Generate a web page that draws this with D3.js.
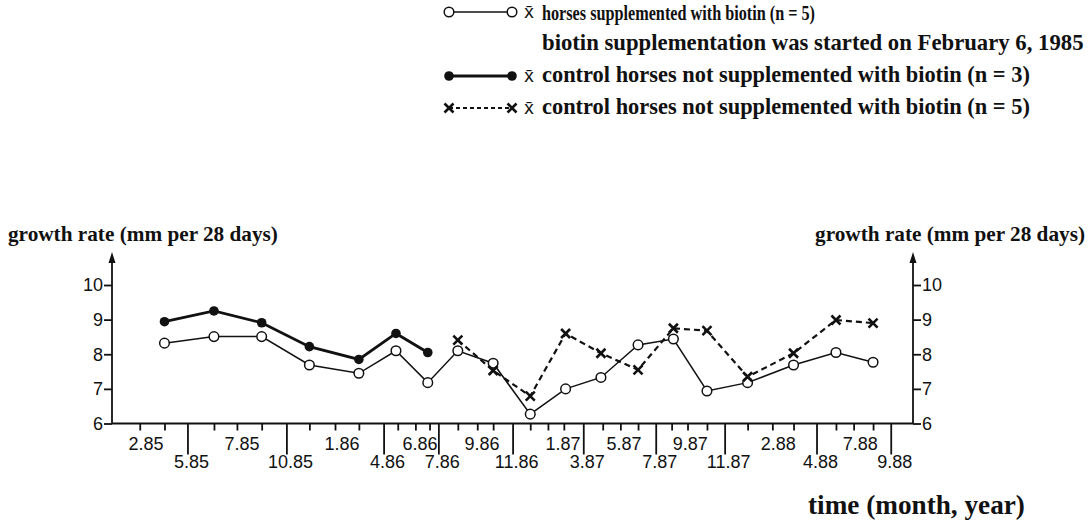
<!DOCTYPE html>
<html>
<head>
<meta charset="utf-8">
<script src="https://cdn.jsdelivr.net/npm/d3@7"></script>
<style>
  body { margin: 0; background: #fff; }
  .serif { font-family: "Liberation Serif", "Times New Roman", serif; font-weight: bold; fill: #111; }
  .num { font-family: "Liberation Sans", Arial, sans-serif; font-size: 18px; fill: #111; }
  .tick text { font-family: "Liberation Sans", Arial, sans-serif; font-size: 18px; fill: #111; }
  .tick line, .axisLine { stroke: #111; stroke-width: 1.8; }
</style>
</head>
<body>
<div class="chart"></div>
<script>
// measurement times (months since January 1985)
var sampleMonths = [2.4, 5.2, 7.9, 10.6, 13.4, 15.5, 17.3, 19.0, 21.0, 23.1, 25.1, 27.1, 29.2, 31.2, 33.1, 35.4, 38.0, 40.4, 42.5];

// mean growth rate, mm per 28 days
var biotinHorses = [8.32, 8.51, 8.51, 7.69, 7.45, 8.1, 7.18, 8.1, 7.74, 6.27, 7.0, 7.33, 8.27, 8.44, 6.94, 7.18, 7.69, 8.05, 7.77];
var control3 = [8.94, 9.25, 8.91, 8.22, 7.85, 8.6, 8.05];
var control5 = [8.41, 7.53, 6.79, 8.6, 8.03, 7.55, 8.75, 8.68, 7.35, 8.03, 8.99, 8.9];
var control5Months = sampleMonths.slice(7);

// axis ticks
var yTicks = [6, 7, 8, 9, 10];
var minorTickMonths = [1.0, 2.4, 5.2, 6.5, 7.9, 10.6, 12.05, 13.4, 15.6, 16.6, 17.4, 19.0, 20.1, 21.0, 23.1, 24.1, 25.0, 27.2, 28.2, 29.2, 31.1, 32.0, 33.1, 35.4, 36.8, 38.0, 40.4, 41.4, 42.5];
var longTickMonths = [3.7, 9.3, 14.8, 17.9, 22.1, 26.1, 30.2, 34.1, 39.3, 43.5];
var lowerLabels = ["5.85", "10.85", "4.86", "7.86", "11.86", "3.87", "7.87", "11.87", "4.88", "9.88"];
var upperLabelMonths = [1.36, 6.79, 12.45, 16.86, 20.37, 24.96, 28.41, 32.15, 37.13, 41.77];
var upperLabels = ["2.85", "7.85", "1.86", "6.86", "9.86", "1.87", "5.87", "9.87", "2.88", "7.88"];

var legendLabels = [
  "horses supplemented with biotin (n = 5)",
  "biotin supplementation was started on February 6, 1985",
  "control horses not supplemented with biotin (n = 3)",
  "control horses not supplemented with biotin (n = 5)"
];
var legendKinds = ["open", "none", "filled", "cross"];

var svgWidth = 1089;
var svgHeight = 524;
var margin = { top: 285, right: 176, bottom: 100.5, left: 112 };
var width = svgWidth - margin.left - margin.right;
var height = svgHeight - margin.top - margin.bottom;

var svg = d3.select(".chart")
  .append("svg")
  .attr("width", svgWidth)
  .attr("height", svgHeight);

// scale bold serif text to the width it has in the figure
function fitText(sel, w) {
  sel.style("font-size", "20px");
  var len = sel.node().getComputedTextLength();
  sel.style("font-size", (20 * w / len) + "px");
}

var chartGroup = svg.append("g")
  .attr("transform", `translate(${margin.left}, ${margin.top})`);

var x = d3.scaleLinear().domain([-0.57, 44.76]).range([0, width]);
var y = d3.scaleLinear().domain([6, 10]).range([height, 0]);
var yTop = y(10.95);

// y axes
var leftAxis = d3.axisLeft(y).tickValues(yTicks).tickSize(8).tickPadding(1).tickFormat(d3.format("d"));
var rightAxis = d3.axisRight(y).tickValues(yTicks).tickSize(8).tickPadding(1).tickFormat(d3.format("d"));

chartGroup.append("g").call(leftAxis).call(g => g.select(".domain").remove());
chartGroup.append("g").attr("transform", `translate(${width}, 0)`)
  .call(rightAxis).call(g => g.select(".domain").remove());

[0, width].forEach(function (px) {
  chartGroup.append("line").attr("class", "axisLine")
    .attr("x1", px).attr("x2", px).attr("y1", height).attr("y2", yTop + 8);
  chartGroup.append("path")
    .attr("d", `M${px},${yTop}L${px - 3.5},${yTop + 11}L${px + 3.5},${yTop + 11}Z`)
    .attr("fill", "#111");
});

// x axis
chartGroup.append("line").attr("class", "axisLine")
  .attr("x1", 0).attr("x2", width).attr("y1", height).attr("y2", height);

var minorAxis = d3.axisBottom(x).tickValues(minorTickMonths).tickSize(7).tickFormat("");
var longAxis = d3.axisBottom(x).tickValues(longTickMonths).tickSize(31).tickFormat("");
chartGroup.append("g").attr("transform", `translate(0, ${height})`)
  .call(minorAxis).call(g => g.select(".domain").remove());
chartGroup.append("g").attr("transform", `translate(0, ${height})`)
  .call(longAxis).call(g => g.select(".domain").remove());

chartGroup.selectAll(".upperLabel").data(upperLabels).enter()
  .append("text").attr("class", "num upperLabel")
  .attr("x", (d, i) => x(upperLabelMonths[i]))
  .attr("y", height + 26)
  .attr("text-anchor", "middle")
  .text(d => d);

chartGroup.selectAll(".lowerLabel").data(lowerLabels).enter()
  .append("text").attr("class", "num lowerLabel")
  .attr("x", (d, i) => x(longTickMonths[i]) + 4)
  .attr("y", height + 44)
  .attr("text-anchor", "middle")
  .text(d => d);

// lines
var line = d3.line().x(d => x(d[0])).y(d => y(d[1]));
var openData = d3.zip(sampleMonths, biotinHorses);
var filledData = d3.zip(sampleMonths.slice(0, control3.length), control3);
var crossData = d3.zip(control5Months, control5);

chartGroup.append("path").datum(filledData).attr("d", line)
  .attr("fill", "none").attr("stroke", "#111").attr("stroke-width", 2.8);
chartGroup.append("path").datum(openData).attr("d", line)
  .attr("fill", "none").attr("stroke", "#111").attr("stroke-width", 1.5);
chartGroup.append("path").datum(crossData).attr("d", line)
  .attr("fill", "none").attr("stroke", "#111").attr("stroke-width", 2.2)
  .attr("stroke-dasharray", "6,4");

var crossPath = "M-4.5,-4.5L4.5,4.5M-4.5,4.5L4.5,-4.5";

function drawMarker(g, kind) {
  if (kind === "open") {
    g.append("circle").attr("r", 4.8).attr("fill", "#fff").attr("stroke", "#111").attr("stroke-width", 1.5);
  } else if (kind === "filled") {
    g.append("circle").attr("r", 4.8).attr("fill", "#111");
  } else if (kind === "cross") {
    g.append("path").attr("d", crossPath).attr("stroke", "#111").attr("stroke-width", 2.6).attr("fill", "none");
  }
}

chartGroup.selectAll(".filledPt").data(filledData).enter()
  .append("g").attr("class", "filledPt")
  .attr("transform", d => `translate(${x(d[0])}, ${y(d[1])})`)
  .each(function () { drawMarker(d3.select(this), "filled"); });

chartGroup.selectAll(".openPt").data(openData).enter()
  .append("g").attr("class", "openPt")
  .attr("transform", d => `translate(${x(d[0])}, ${y(d[1])})`)
  .each(function () { drawMarker(d3.select(this), "open"); });

chartGroup.selectAll(".crossPt").data(crossData).enter()
  .append("g").attr("class", "crossPt")
  .attr("transform", d => `translate(${x(d[0])}, ${y(d[1])})`)
  .each(function () { drawMarker(d3.select(this), "cross"); });

// axis titles
svg.append("text").attr("class", "serif")
  .attr("x", 8).attr("y", 241)
  .text("growth rate (mm per 28 days)")
  .call(fitText, 270);

svg.append("text").attr("class", "serif")
  .attr("x", 1085).attr("y", 241).attr("text-anchor", "end")
  .text("growth rate (mm per 28 days)")
  .call(fitText, 270);

svg.append("text").attr("class", "serif")
  .attr("x", 808).attr("y", 514)
  .text("time (month, year)")
  .call(fitText, 217);

// legend
var legend = svg.selectAll(".legendRow").data(legendLabels).enter()
  .append("g").attr("class", "legendRow")
  .attr("transform", (d, i) => `translate(0, ${12 + i * 32})`);

legend.each(function (d, i) {
  var row = d3.select(this);
  var kind = legendKinds[i];
  if (kind !== "none") {
    row.append("line")
      .attr("x1", 449).attr("x2", 512).attr("y1", 0).attr("y2", 0)
      .attr("stroke", "#111")
      .attr("stroke-width", kind === "filled" ? 2.8 : (kind === "cross" ? 2.2 : 1.5))
      .attr("stroke-dasharray", kind === "cross" ? "4,3" : null);
    [449, 512].forEach(function (px) {
      drawMarker(row.append("g").attr("transform", `translate(${px}, 0)`), kind);
    });
    row.append("text").attr("class", "num")
      .attr("x", 529).attr("y", 6).attr("text-anchor", "middle")
      .style("font-size", "19px")
      .text("x\u0304");
  }
  var t = row.append("text").attr("class", "serif")
    .attr("x", 542).attr("y", i === 0 ? 8 : 6)
    .text(d);
  if (i === 0) {
    // the top line is printed condensed in the figure
    t.style("font-size", "20px")
      .attr("textLength", 273)
      .attr("lengthAdjust", "spacingAndGlyphs");
  } else {
    t.call(fitText, i === 1 ? 542 : 488);
  }
});
</script>
</body>
</html>
